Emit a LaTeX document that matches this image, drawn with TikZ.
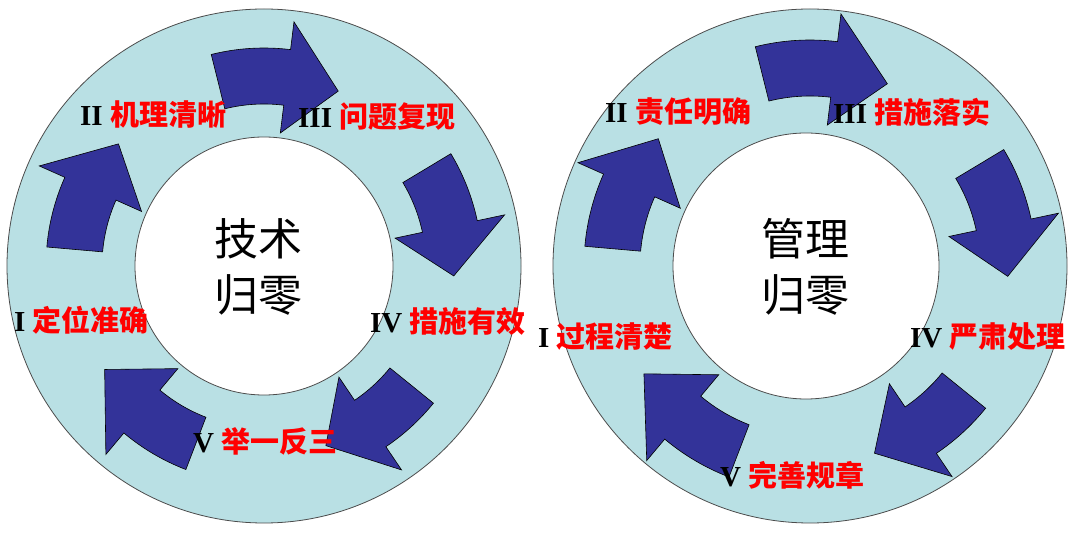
\documentclass[tikz,border=0pt]{standalone}
\usepackage{fontspec}
\setmainfont{Liberation Serif}
\newfontfamily\cjk{Noto Sans CJK SC}
\definecolor{ring}{RGB}{185,224,228}
\definecolor{arr}{RGB}{51,51,153}
\newcommand\carr[5]{% center, tail, base, tip, radius
  \draw[arrow,shift={(#1)}] (#2:{#5+28}) arc[start angle=#2,end angle=#3,radius={#5+28}]
   -- (#3:{#5+56}) -- (#4:{#5}) -- (#3:{#5-56}) -- (#3:{#5-28})
   arc[start angle=#3,end angle=#2,radius={#5-28}] -- cycle;}
\begin{document}
\begin{tikzpicture}[x=1pt,y=1pt,
  ringo/.style={draw=black!70,line width=0.8pt,fill=ring},
  inner/.style={draw=black!70,line width=0.8pt,fill=white},
  arrow/.style={draw=black,line width=0.6pt,fill=arr},
  lab/.style={anchor=west,inner sep=0pt,font=\fontsize{29}{32}\selectfont},
  ctr/.style={align=center,font=\cjk\fontsize{44}{56}\selectfont,inner sep=0pt}]
\useasboundingbox (0,0) rectangle (1087,533);
\fill[white] (0,0) rectangle (1087,533);
\coordinate (L) at (264,267);
\coordinate (R) at (810,267);
\node[ringo,circle,minimum size=514pt,inner sep=0pt] (Lo) at (L) {};
\node[inner,circle,minimum size=258pt,inner sep=0pt] (Li) at (L) {};
\node[ringo,circle,minimum size=514pt,inner sep=0pt] (Ro) at (R) {};
\node[inner,circle,minimum size=266pt,inner sep=0pt] (Ri) at (806,267) {};
% arrows left
\carr{L}{104}{83}{67}{190}
\carr{L}{31}{12}{-3}{190}
\carr{L}{-39}{-56}{-71}{190}
\carr{L}{-111}{-130}{-147}{190}
\carr{L}{175}{156}{140}{190}
% arrows right
\carr{R}{104}{83}{67}{198}
\carr{R}{31}{12}{-3}{198}
\carr{R}{-39}{-56}{-71}{198}
\carr{R}{-111}{-130}{-147}{198}
\carr{R}{175}{156}{140}{198}
% center texts
\node[ctr] (Lc) at (258,266) {技术\\归零};
\node[ctr] (Rc) at (805,266) {管理\\归零};
% labels left
\node[lab] (l2) at (80,418) {\textbf{II} {\cjk\bfseries\color{red}机理清晰}};
\node[lab] (l3) at (298,416) {\textbf{III} {\cjk\bfseries\color{red}问题复现}};
\node[lab] (l4) at (370,212) {\textbf{IV} {\cjk\bfseries\color{red}措施有效}};
\node[lab] (l1) at (14,213) {\textbf{I} {\cjk\bfseries\color{red}定位准确}};
\node[lab] (l5) at (193,92) {\textbf{V} {\cjk\bfseries\color{red}举一反三}};
% labels right
\node[lab] (r2) at (605,421) {\textbf{II} {\cjk\bfseries\color{red}责任明确}};
\node[lab] (r3) at (833,421) {\textbf{III} {\cjk\bfseries\color{red}措施落实}};
\node[lab] (r4) at (910,196) {\textbf{IV} {\cjk\bfseries\color{red}严肃处理}};
\node[lab] (r1) at (538,196) {\textbf{I} {\cjk\bfseries\color{red}过程清楚}};
\node[lab] (r5) at (720,58) {\textbf{V} {\cjk\bfseries\color{red}完善规章}};
\end{tikzpicture}
\end{document}
